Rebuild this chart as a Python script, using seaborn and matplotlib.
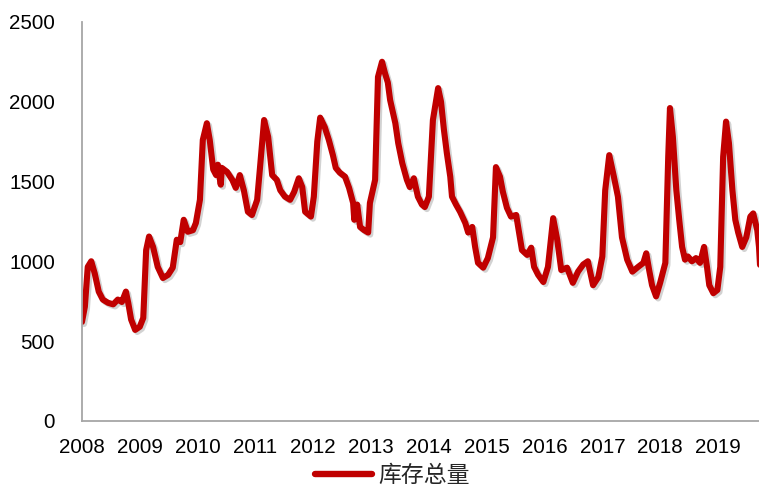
import matplotlib
matplotlib.use("Agg")
import matplotlib.pyplot as plt
import matplotlib.patheffects as pe
import seaborn as sns
import pandas as pd

# decimal years and inventory values
t = [2008.00, 2008.05, 2008.10, 2008.16, 2008.22, 2008.29, 2008.36, 2008.45, 2008.54, 2008.62,
     2008.69, 2008.76, 2008.80, 2008.85, 2008.92, 2009.00, 2009.06, 2009.11, 2009.16, 2009.23,
     2009.31, 2009.40, 2009.49, 2009.57, 2009.64, 2009.70, 2009.76, 2009.83, 2009.92, 2009.97,
     2010.04, 2010.09, 2010.16, 2010.21, 2010.27, 2010.32, 2010.35, 2010.40, 2010.42, 2010.51,
     2010.60, 2010.66, 2010.73, 2010.80, 2010.87, 2010.94, 2011.03, 2011.08, 2011.15, 2011.22,
     2011.29, 2011.37, 2011.43, 2011.51, 2011.60, 2011.67, 2011.75, 2011.81, 2011.86, 2011.96,
     2012.01, 2012.07, 2012.12, 2012.20, 2012.27, 2012.34, 2012.39, 2012.46, 2012.55, 2012.62,
     2012.69, 2012.71, 2012.76, 2012.81, 2012.88, 2012.95, 2012.98, 2013.07, 2013.12, 2013.19,
     2013.24, 2013.29, 2013.33, 2013.42, 2013.47, 2013.54, 2013.62, 2013.67, 2013.74, 2013.81,
     2013.88, 2013.93, 2014.00, 2014.07, 2014.16, 2014.21, 2014.26, 2014.31, 2014.37, 2014.40,
     2014.47, 2014.54, 2014.63, 2014.68, 2014.75, 2014.80, 2014.85, 2014.94, 2015.02, 2015.11,
     2015.16, 2015.23, 2015.28, 2015.35, 2015.42, 2015.51, 2015.56, 2015.61, 2015.70, 2015.77,
     2015.82, 2015.89, 2015.98, 2016.06, 2016.15, 2016.22, 2016.29, 2016.39, 2016.49, 2016.58,
     2016.67, 2016.75, 2016.84, 2016.93, 2017.00, 2017.05, 2017.12, 2017.20, 2017.27, 2017.34,
     2017.43, 2017.52, 2017.62, 2017.71, 2017.76, 2017.81, 2017.86, 2017.93, 2018.00, 2018.09,
     2018.14, 2018.17, 2018.22, 2018.28, 2018.33, 2018.38, 2018.43, 2018.48, 2018.55, 2018.62,
     2018.69, 2018.76, 2018.81, 2018.85, 2018.92, 2018.99, 2019.04, 2019.09, 2019.14, 2019.19,
     2019.25, 2019.30, 2019.35, 2019.42, 2019.49, 2019.56, 2019.61, 2019.68, 2019.71, 2019.73]

inventory = [620, 715, 965, 1000, 925, 810, 760, 740, 730, 760,
             745, 810, 740, 635, 570, 590, 645, 1070, 1155, 1090,
             965, 895, 915, 960, 1135, 1120, 1260, 1185, 1195, 1240,
             1385, 1760, 1865, 1760, 1575, 1540, 1605, 1480, 1585, 1560,
             1510, 1460, 1540, 1445, 1310, 1290, 1385, 1590, 1885, 1780,
             1540, 1510, 1445, 1405, 1385, 1435, 1520, 1465, 1310, 1280,
             1405, 1750, 1900, 1840, 1760, 1665, 1585, 1555, 1530, 1460,
             1365, 1260, 1355, 1215, 1195, 1180, 1365, 1510, 2155, 2250,
             2180, 2120, 2010, 1865, 1740, 1615, 1510, 1465, 1520, 1405,
             1355, 1340, 1405, 1885, 2085, 2000, 1825, 1680, 1530, 1405,
             1355, 1310, 1240, 1180, 1215, 1090, 990, 960, 1020, 1150,
             1590, 1530, 1435, 1335, 1280, 1290, 1180, 1070, 1040, 1085,
             965, 915, 870, 965, 1270, 1135, 945, 960, 865, 935,
             980, 1000, 850, 900, 1030, 1445, 1665, 1530, 1405, 1150,
             1010, 935, 965, 990, 1050, 945, 850, 780, 865, 990,
             1655, 1960, 1780, 1445, 1260, 1090, 1010, 1030, 1000, 1020,
             990, 1090, 965, 850, 800, 820, 965, 1655, 1875, 1740,
             1445, 1260, 1180, 1090, 1150, 1280, 1300, 1195, 1090, 960]

years = list(range(2008, 2020))
yticks = [0, 500, 1000, 1500, 2000, 2500]
series_name = "库存总量"

df = pd.DataFrame({"t": t, "v": inventory})

sns.set_style("white")
plt.rcParams["font.family"] = ["Liberation Sans", "Noto Sans CJK SC", "DejaVu Sans"]

fig = plt.figure(figsize=(7.59, 4.86), dpi=100)
ax = fig.add_axes([0.108, 0.134, 0.892, 0.821])

red = "#C00000"
sns.lineplot(data=df, x="t", y="v", ax=ax, color=red, linewidth=4.4,
             label=series_name, legend=False, sort=False,
             path_effects=[pe.SimpleLineShadow(offset=(1.5, -1.5), shadow_color="gray", alpha=0.35),
                           pe.Normal()])
for ln in ax.get_lines():
    ln.set_solid_joinstyle("round")
    ln.set_solid_capstyle("round")

ax.set_xlim(2008, 2019.71)
ax.set_ylim(0, 2500)
ax.set_xticks(years)
ax.set_xticklabels([str(y) for y in years])
ax.set_yticks(yticks)
ax.set_yticklabels([str(y) for y in yticks])
ax.set_xlabel("")
ax.set_ylabel("")

spine_col = "#A6A6A6"
for s in ["top", "right"]:
    ax.spines[s].set_visible(False)
for s in ["left", "bottom"]:
    ax.spines[s].set_color(spine_col)
    ax.spines[s].set_linewidth(1.3)

ax.tick_params(axis="both", colors=spine_col, labelcolor="black", labelsize=14.8,
               direction="out", length=4.5, width=1.2)
ax.tick_params(axis="x", pad=8)
ax.tick_params(axis="y", pad=15)
ax.grid(False)

handles = [plt.Line2D([0], [0], color=red, linewidth=4.6, solid_capstyle="round")]
fig.legend(handles, [series_name], loc="center", bbox_to_anchor=(0.517, 0.022),
           frameon=False, fontsize=16.5, handlelength=2.5, handletextpad=0.3,
           borderpad=0, borderaxespad=0)

fig.savefig("out.png", dpi=100)
